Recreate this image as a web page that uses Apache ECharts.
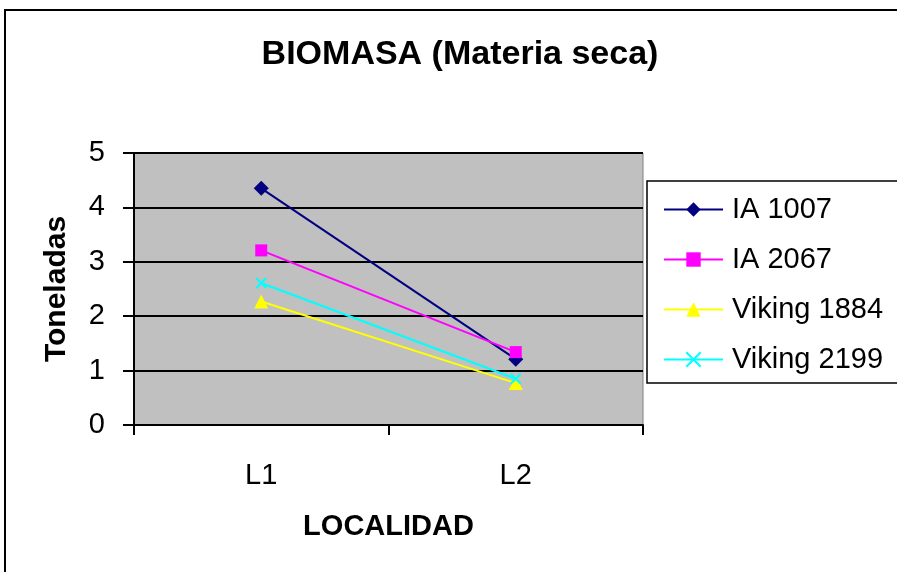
<!DOCTYPE html>
<html>
<head>
<meta charset="utf-8">
<script src="https://cdn.jsdelivr.net/npm/echarts@6/dist/echarts.min.js"></script>
<style>
html,body{margin:0;padding:0;background:#fff;}
#chart{width:897px;height:572px;}
</style>
</head>
<body>
<div id="chart"></div>
<script>
const categories = ['L1', 'L2'];
const ia1007 = [4.35, 1.21];
const ia2067 = [3.21, 1.34];
const viking1884 = [2.27, 0.77];
const viking2199 = [2.61, 0.85];
const yTicks = [0, 1, 2, 3, 4, 5];

const FONT = '"Liberation Sans", Arial, sans-serif';
const chart = echarts.init(document.getElementById('chart'));

function mk(name, data, color, symbol, size, extra) {
  return Object.assign({
    name: name,
    type: 'line',
    data: data,
    symbol: symbol,
    symbolSize: size,
    lineStyle: { color: color, width: 2 },
    itemStyle: { color: color },
    z: 3
  }, extra || {});
}

chart.setOption({
  animation: false,
  backgroundColor: '#ffffff',
  title: {
    text: 'BIOMASA (Materia seca)',
    left: 460, top: 38, textAlign: 'center', padding: 0,
    textStyle: { fontFamily: FONT, fontSize: 34, fontWeight: 'bold', color: '#000' }
  },
  graphic: [
    { type: 'rect', shape: { x: 5, y: 10, width: 1000, height: 700 }, style: { fill: 'none', stroke: '#000', lineWidth: 2 }, z: 0 },
    { type: 'rect', shape: { x: 647, y: 181, width: 300, height: 202 }, style: { fill: '#fff', stroke: '#000', lineWidth: 1.5 }, z: 1 }
  ],
  legend: {
    orient: 'vertical',
    left: 658, top: 190,
    itemWidth: 59, itemHeight: 18,
    itemGap: 21,
    textStyle: { fontFamily: FONT, fontSize: 29, color: '#000', padding: [0, 0, 0, 4] },
    z: 5
  },
  grid: {
    left: 134, right: 254, top: 153, bottom: 147,
    show: true, backgroundColor: '#c0c0c0', borderColor: '#808080', borderWidth: 1
  },
  xAxis: {
    type: 'category',
    data: categories,
    boundaryGap: true,
    name: 'LOCALIDAD',
    nameLocation: 'middle',
    nameGap: 87,
    nameTextStyle: { fontFamily: FONT, fontSize: 29, fontWeight: 'bold', color: '#000' },
    axisLine: { lineStyle: { color: '#000', width: 2 } },
    axisTick: { show: true, length: 10, lineStyle: { color: '#000', width: 2 } },
    axisLabel: { fontFamily: FONT, fontSize: 29, color: '#000', margin: 36 }
  },
  yAxis: {
    type: 'value',
    min: 0, max: 5, interval: 1,
    name: 'Toneladas',
    nameLocation: 'middle',
    nameGap: 62,
    nameTextStyle: { fontFamily: FONT, fontSize: 30, fontWeight: 'bold', color: '#000' },
    axisLine: { show: true, lineStyle: { color: '#000', width: 2 } },
    axisTick: { show: true, length: 11, lineStyle: { color: '#000', width: 2 } },
    axisLabel: {
      fontFamily: FONT, fontSize: 29, color: '#000', margin: 29,
      formatter: function (v) { return yTicks.indexOf(v) >= 0 ? String(v) : ''; }
    },
    splitLine: { show: true, lineStyle: { color: '#000', width: 2 } }
  },
  series: [
    mk('IA 1007', ia1007, '#000080', 'diamond', 15),
    mk('IA 2067', ia2067, '#ff00ff', 'rect', 12),
    mk('Viking 1884', viking1884, '#ffff00', 'triangle', 14),
    mk('Viking 2199', viking2199, '#00ffff', 'path://M0,0L10,10M10,0L0,10', 10, {
      itemStyle: { color: '#00ffff', borderColor: '#00ffff', borderWidth: 2 }
    })
  ]
});
</script>
</body>
</html>
